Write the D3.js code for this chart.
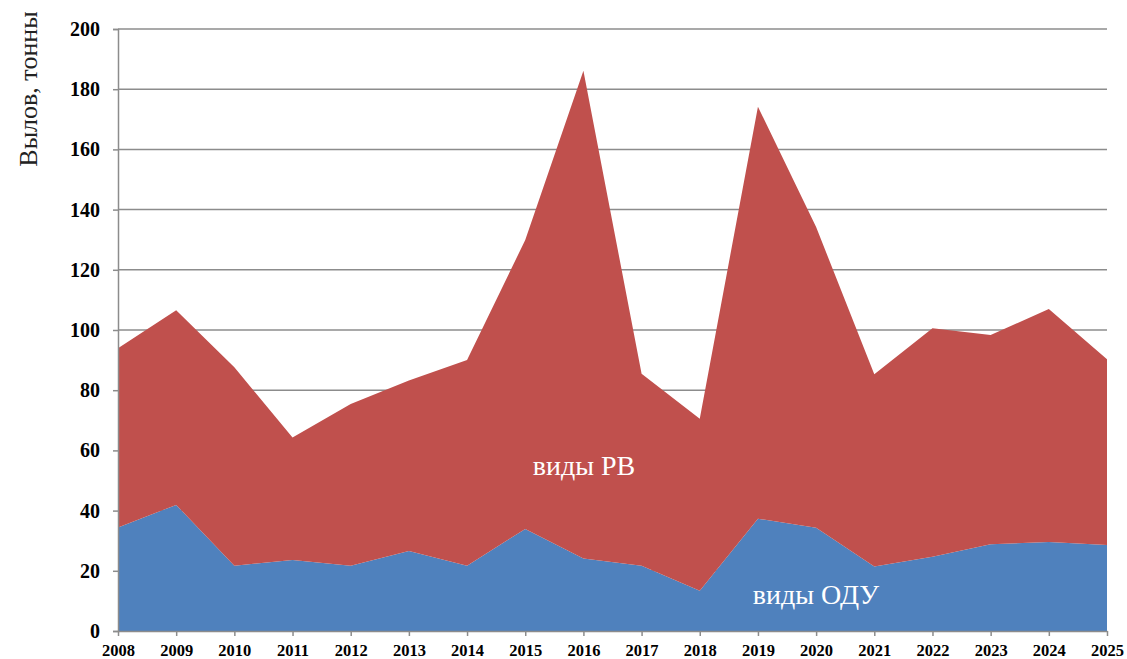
<!DOCTYPE html>
<html>
<head>
<meta charset="utf-8">
<script src="https://cdn.jsdelivr.net/npm/d3@7"></script>
<style>
  body { margin: 0; background: #fff; }
  text { font-family: "Liberation Serif", "Times New Roman", serif; }
</style>
</head>
<body>
<script>
// data
var years = [2008, 2009, 2010, 2011, 2012, 2013, 2014, 2015, 2016, 2017, 2018, 2019, 2020, 2021, 2022, 2023, 2024, 2025];
// виды ОДУ (lower area)
var odu = [34.4, 41.9, 21.7, 23.6, 21.7, 26.6, 21.7, 33.9, 24.1, 21.7, 13.4, 37.3, 34.3, 21.4, 24.7, 28.8, 29.6, 28.6];
// total catch, top of the stack
var total = [93.9, 106.6, 87.6, 64.3, 75.4, 83.2, 90.0, 129.9, 186.1, 85.5, 70.5, 174.2, 134.2, 85.3, 100.6, 98.3, 107.0, 90.3];
// виды РВ = total - ОДУ
var rv = total.map(function(t, i) { return +(t - odu[i]).toFixed(1); });
var yTicks = [0, 20, 40, 60, 80, 100, 120, 140, 160, 180, 200];

var width = 1127, height = 659;
var margin = { left: 118, right: 20, top: 29, bottom: 28 };

var svg = d3.select("body").append("svg")
    .attr("width", width)
    .attr("height", height);

var x = d3.scaleLinear().domain([2008, 2025]).range([margin.left, width - margin.right]);
var y = d3.scaleLinear().domain([0, 200]).range([height - margin.bottom, margin.top]);

var rows = years.map(function(yr, i) { return { year: yr, odu: odu[i], rv: rv[i] }; });
var stack = d3.stack().keys(["odu", "rv"]);
var series = stack(rows);
var colors = { odu: "#4F81BD", rv: "#C0504D" };

// gridlines
svg.append("g")
    .selectAll("line")
    .data(yTicks.slice(1))
    .enter().append("line")
    .attr("x1", x(2008)).attr("x2", x(2025))
    .attr("y1", function(d) { return y(d); })
    .attr("y2", function(d) { return y(d); })
    .attr("stroke", "#8c8c8c")
    .attr("stroke-width", 1.5);

// areas
var area = d3.area()
    .x(function(d) { return x(d.data.year); })
    .y0(function(d) { return y(d[0]); })
    .y1(function(d) { return y(d[1]); });

svg.append("g")
    .selectAll("path")
    .data(series)
    .enter().append("path")
    .attr("fill", function(d) { return colors[d.key]; })
    .attr("d", area);

// y axis
var yAxis = svg.append("g")
    .attr("transform", "translate(" + x(2008) + ",0)")
    .call(d3.axisLeft(y).tickValues(yTicks).tickSize(5).tickPadding(13).tickFormat(d3.format("d")));
yAxis.selectAll("path, line").attr("stroke", "#8c8c8c").attr("stroke-width", 1.5);
yAxis.selectAll("text")
    .attr("font-size", "20px")
    .attr("font-weight", "bold")
    .attr("fill", "#000")
    .style("font-family", "'Liberation Serif', serif");

// x axis
var xAxis = svg.append("g")
    .attr("transform", "translate(0," + y(0) + ")")
    .call(d3.axisBottom(x).tickValues(years).tickSize(5).tickPadding(8).tickFormat(d3.format("d")).tickSizeOuter(0));
xAxis.selectAll("path, line").attr("stroke", "#8c8c8c").attr("stroke-width", 1.5);
xAxis.selectAll("text")
    .attr("font-size", "16.5px")
    .attr("font-weight", "bold")
    .attr("fill", "#000")
    .style("font-family", "'Liberation Serif', serif");

// y title
svg.append("text")
    .attr("transform", "translate(37,89) rotate(-90)")
    .attr("text-anchor", "middle")
    .attr("font-size", "26px")
    .attr("fill", "#222")
    .text("Вылов, тонны");

// area labels
svg.append("text")
    .attr("x", 584).attr("y", 475)
    .attr("text-anchor", "middle")
    .attr("font-size", "28px")
    .attr("fill", "#fff")
    .text("виды РВ");

svg.append("text")
    .attr("x", 816).attr("y", 604)
    .attr("text-anchor", "middle")
    .attr("font-size", "28px")
    .attr("fill", "#fff")
    .text("виды ОДУ");
</script>
</body>
</html>
